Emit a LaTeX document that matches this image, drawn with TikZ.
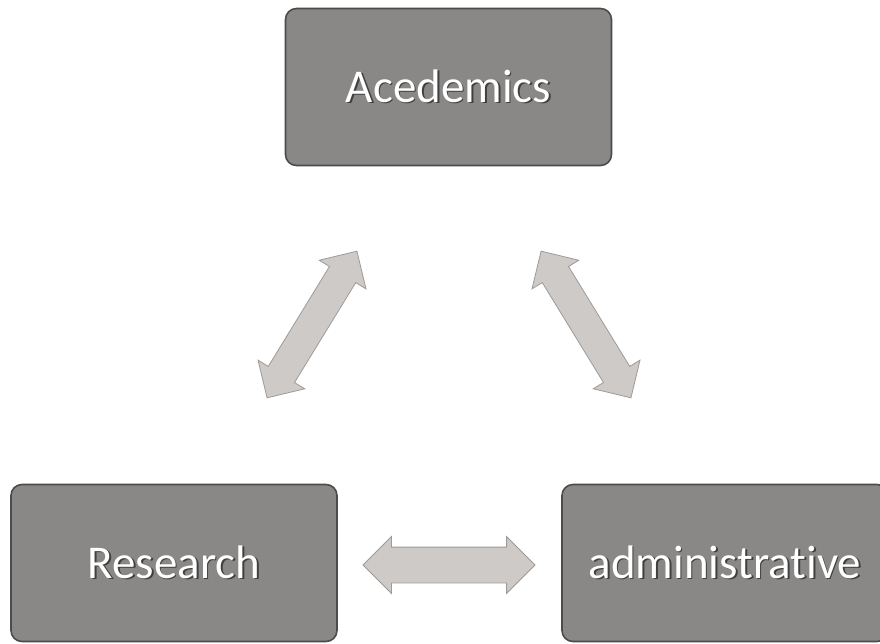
\documentclass[tikz,border=0pt]{standalone}
\usepackage{fontspec}
\setmainfont{Carlito}[Ligatures=NoCommon]
\usetikzlibrary{shapes.arrows}
\definecolor{boxfill}{HTML}{8A8886}
\definecolor{boxedge}{HTML}{4E4C4B}
\definecolor{arrfill}{HTML}{CDCAC8}
\definecolor{arredge}{HTML}{9E9A98}
\newcommand\shtext[1]{\rlap{\kern1.6pt\raisebox{-1.6pt}{\color{black!75}#1}}#1}
\tikzset{
  box/.style={draw=boxedge, line width=1.6pt, fill=boxfill, rounded corners=11pt,
    minimum width=326pt, minimum height=157pt, text=white,
    font=\fontsize{47}{51}\selectfont, inner sep=0pt},
  barrow/.style={double arrow, draw=arredge, line width=0.8pt, fill=arrfill,
    minimum height=172pt, inner xsep=0pt, double arrow head indent=0pt},
  diagarrow/.style={barrow, inner ysep=15pt, double arrow head extend=12pt},
  horarrow/.style={barrow, inner ysep=17.5pt, double arrow head extend=10.5pt}
}
\begin{document}
\begin{tikzpicture}[x=1pt,y=-1pt]
\fill[white] (0,0) rectangle (880,643);
\useasboundingbox (0,0) rectangle (880,643);
\node[box] (acad) at (448.5,87) {\shtext{Acedemics}};
\node[box] (res) at (174,563) {\shtext{Research}};
\node[box] (adm) at (725,563) {\shtext{administrative}};
\node[diagarrow, rotate=58.5] (arrL) at (312,324.5) {};
\node[diagarrow, rotate=-58.5] (arrR) at (586,324.5) {};
\node[horarrow] (arrB) at (449,565) {};
\end{tikzpicture}
\end{document}
